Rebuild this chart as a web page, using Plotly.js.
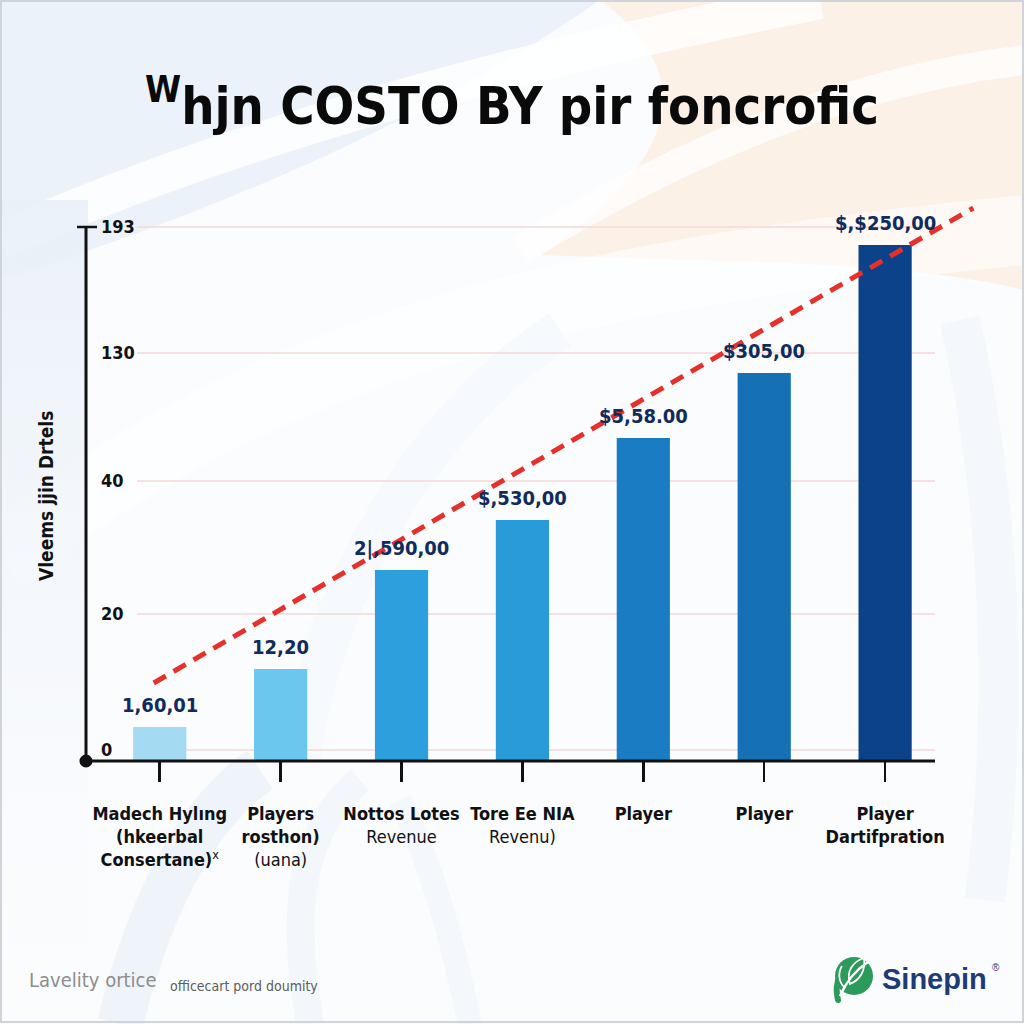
<!DOCTYPE html>
<html><head><meta charset="utf-8">
<script src="https://cdn.plot.ly/plotly-3.0.1.min.js"></script>
<style>html,body{margin:0;padding:0;background:#f7f9fc}#chart{width:1024px;height:1024px}</style>
</head><body><div id="chart"></div>
<script>
// ---- data ----
const categories = [
  "<b>Madech Hylıng</b><br><b>(hkeerbal</b><br><b>Consertane)</b><sup>x</sup>",
  "<b>Players</b><br><b>rosthon)</b><br>(uana)",
  "<b>Nottos Lotes</b><br>Revenue",
  "<b>Tore Ee NIA</b><br>Revenu)",
  "<b>Player</b>",
  "<b>Player</b>",
  "<b>Player</b><br><b>Dartifpration</b>"
];
const barValues = [34, 92, 191, 241, 323, 388, 516];
const barLabels = ["1,60,01", "12,20", "2|,590,00", "$,530,00", "$5,58.00", "$305,00", "$,$250,00"];
const barColors = ["#a4dbf3", "#6cc7ee", "#2d9fdc", "#2a9bd9", "#1a7dc3", "#1670b4", "#0b428a"];
const yTickVals = [11, 147, 280, 408, 534];
const yTickText = ["0", "20", "40", "130", "193"];
const trendX = [-0.05, 6.73];
const trendY = [78, 553];
const titleText = "<sup>W</sup>hjn COSTO BY pir foncrofic";
const yTitleText = "Vleems jjin Drtels";

// ---- layout geometry ----
const L = 86, R = 980, T = 200, B = 761;
const px = x => (x - L) / (R - L);
const py = y => (B - y) / (B - T);
const vy = v => v / (B - T);
const NARROW = "DejaVu Sans Condensed, Liberation Sans Narrow, DejaVu Sans, sans-serif";

const bgSvg = `<svg xmlns='http://www.w3.org/2000/svg' width='1024' height='1024' viewBox='0 0 1024 1024'>
<defs><linearGradient id='lg' x1='0' y1='0' x2='0' y2='1'>
<stop offset='0' stop-color='#e9f0f8' stop-opacity='0.9'/><stop offset='1' stop-color='#eef3f9' stop-opacity='0'/></linearGradient></defs>
<rect width='1024' height='1024' fill='#fbfcfe'/>
<path d='M0,0 L600,0 C430,120 220,210 0,280 Z' fill='#e9f0f8' opacity='0.85'/>
<path d='M600,0 L1024,0 L1024,290 C900,260 720,262 540,255 C650,180 720,90 600,0 Z' fill='#fbeee3' opacity='0.85'/>
<path d='M0,240 C250,130 520,60 820,0' stroke='#ffffff' stroke-width='38' fill='none' opacity='0.8'/>
<path d='M520,250 C700,140 860,80 1024,60' stroke='#ffffff' stroke-width='30' fill='none' opacity='0.7'/>
<path d='M0,560 C280,330 620,270 1024,230' stroke='#ffffff' stroke-width='70' fill='none' opacity='0.55'/>
<rect x='0' y='200' width='88' height='760' fill='url(#lg)'/>
<path d='M120,1024 C150,900 200,810 260,770' stroke='#e8eff8' stroke-width='46' fill='none' opacity='0.6'/>
<path d='M310,1024 C290,910 300,830 360,780' stroke='#eef3f9' stroke-width='28' fill='none' opacity='0.6'/>
<path d='M470,1024 C450,930 430,860 400,800' stroke='#f0f4fa' stroke-width='24' fill='none' opacity='0.6'/>
<path d='M960,320 C1000,500 1010,700 985,900' stroke='#eef3f9' stroke-width='40' fill='none' opacity='0.5'/>
<path d='M300,760 C320,600 420,420 560,330' stroke='#f2f6fb' stroke-width='40' fill='none' opacity='0.5'/>
<rect x='1' y='1' width='1022' height='1021' fill='none' stroke='#cfd4da' stroke-width='2'/>
<path d='M838,1000 C836,990 836,985 840,975' stroke='#2b9a5a' stroke-width='6' fill='none' stroke-linecap='round'/>
<circle cx='854' cy='976' r='19' fill='#2b9a5a'/>
<path d='M840,996 C846,982 856,970 868,962' stroke='#ffffff' stroke-width='2.4' fill='none'/>
<path d='M850,984 C846,972 852,962 864,958 C866,970 860,980 850,984 Z' stroke='#ffffff' stroke-width='1.8' fill='none'/>
<path d='M845,988 C838,982 838,972 842,966' stroke='#ffffff' stroke-width='1.8' fill='none'/>
</svg>`;

const bars = {
  type: "bar",
  x: categories.map((c, i) => i),
  y: barValues,
  width: 0.44,
  marker: { color: barColors, line: { width: 0 } },
  hoverinfo: "skip"
};
const trend = {
  type: "scatter",
  mode: "lines",
  x: trendX,
  y: trendY,
  line: { color: "#e5302c", width: 5, dash: "14px,9px" },
  hoverinfo: "skip"
};

const annotations = barLabels.map((t, i) => ({
  x: i, y: barValues[i], xref: "x", yref: "y",
  text: t, showarrow: false, yshift: 22, yanchor: "middle",
  font: { family: NARROW, size: 20, color: "#102b5c", weight: 700 }
}));
annotations.push({
  xref: "paper", yref: "paper", x: px(46), y: py(496), xanchor: "center", yanchor: "middle",
  text: yTitleText, textangle: -90, showarrow: false,
  font: { family: NARROW, size: 19, color: "#111111", weight: 700 }
});
annotations.push({
  xref: "paper", yref: "paper", x: px(27), y: py(980), xanchor: "left", yanchor: "middle",
  text: "Lavelity ortice", showarrow: false,
  font: { family: NARROW, size: 20, color: "#8d8d8d" }
});
annotations.push({
  xref: "paper", yref: "paper", x: px(168), y: py(986), xanchor: "left", yanchor: "middle",
  text: "officecart pord doumity", showarrow: false,
  font: { family: NARROW, size: 14, color: "#5c5c5c" }
});
annotations.push({
  xref: "paper", yref: "paper", x: px(880), y: py(979), xanchor: "left", yanchor: "middle",
  text: "<b>Sinepin</b>", showarrow: false,
  font: { family: "Liberation Sans, Arial, sans-serif", size: 29, color: "#1c3b77" }
});
annotations.push({
  xref: "paper", yref: "paper", x: px(990), y: py(967), xanchor: "left", yanchor: "middle",
  text: "®", showarrow: false,
  font: { family: "Liberation Sans, Arial, sans-serif", size: 10, color: "#1c3b77" }
});

const shapes = [];
yTickVals.forEach(v => shapes.push({
  type: "line", xref: "paper", yref: "paper", x0: px(137), x1: px(935), y0: vy(v), y1: vy(v),
  line: { color: "#f4d9d9", width: 1.5 }, layer: "below"
}));
const yTop = vy(yTickVals[yTickVals.length - 1]);
shapes.push({ type: "line", xref: "paper", yref: "paper", x0: 0, x1: px(935), y0: 0, y1: 0,
  line: { color: "#111111", width: 3 } });
shapes.push({ type: "line", xref: "paper", yref: "paper", x0: 0, x1: 0, y0: 0, y1: yTop,
  line: { color: "#111111", width: 3 } });
shapes.push({ type: "line", xref: "paper", yref: "paper", x0: px(77), x1: px(97), y0: yTop, y1: yTop,
  line: { color: "#111111", width: 2.5 } });
shapes.push({ type: "circle", xref: "paper", yref: "paper", xsizemode: "pixel", ysizemode: "pixel",
  xanchor: 0, yanchor: 0, x0: -6.5, x1: 6.5, y0: -6.5, y1: 6.5,
  fillcolor: "#111111", line: { color: "#111111", width: 0 } });

const layout = {
  width: 1024, height: 1024,
  margin: { l: L, r: 1024 - R, t: T, b: 1024 - B, pad: 0 },
  paper_bgcolor: "#fbfcfe",
  plot_bgcolor: "rgba(0,0,0,0)",
  showlegend: false,
  title: {
    text: titleText, xref: "container", yref: "container",
    x: 0.5, xanchor: "center", y: 1 - 106 / 1024, yanchor: "middle",
    font: { family: NARROW, size: 52, color: "#0a0a0a", weight: 700 }
  },
  xaxis: {
    type: "linear", range: [-0.61, 6.785],
    tickvals: categories.map((c, i) => i), ticktext: categories,
    tickangle: 0,
    ticks: "outside", ticklen: 20, tickwidth: 2.5, tickcolor: "#111111",
    ticklabelstandoff: 16,
    showline: false, showgrid: false, zeroline: false,
    tickfont: { family: NARROW, size: 18, color: "#111111" },
    fixedrange: true
  },
  yaxis: {
    range: [0, B - T],
    tickvals: yTickVals, ticktext: yTickText,
    ticks: "", ticklabelposition: "inside", ticklabelstandoff: 12,
    showline: false, showgrid: false, zeroline: false,
    tickfont: { family: NARROW, size: 18, color: "#111111", weight: 700 },
    fixedrange: true
  },
  images: [{
    source: "data:image/svg+xml;charset=utf-8," + encodeURIComponent(bgSvg),
    xref: "paper", yref: "paper", x: px(0), y: py(0),
    sizex: 1024 / (R - L), sizey: 1024 / (B - T),
    xanchor: "left", yanchor: "top", sizing: "stretch", layer: "below"
  }],
  shapes: shapes,
  annotations: annotations
};

Plotly.newPlot("chart", [bars, trend], layout, { staticPlot: true, displayModeBar: false });
</script>
</body></html>
